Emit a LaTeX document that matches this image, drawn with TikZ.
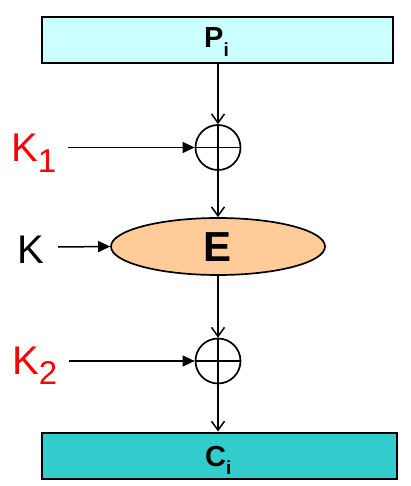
\documentclass[tikz,border=0pt]{standalone}
\usepackage{fontspec}
\setmainfont{Liberation Sans}
\usetikzlibrary{arrows.meta,shapes.geometric}
\definecolor{topfill}{HTML}{CCFFFF}
\definecolor{botfill}{HTML}{33CCCC}
\definecolor{efill}{HTML}{FFCC99}
\definecolor{kred}{HTML}{FF0000}
\begin{document}
\begin{tikzpicture}[x=1pt,y=-1pt,
  blockbox/.style={draw,line width=2pt,minimum width=351pt,minimum height=46pt,inner sep=0pt},
  xorc/.style={draw,circle,line width=1.7pt,minimum size=45pt,inner sep=0pt},
  vflow/.style={line width=1.5pt,-{Straight Barb[length=9pt,width=13pt,line width=1.5pt]}},
  hflow/.style={line width=1.5pt,-{Triangle[length=12pt,width=11pt]}},
  keylabel/.style={inner sep=0pt,anchor=base west,font=\fontsize{40}{40}\selectfont}]
\useasboundingbox (0,0) rectangle (410,486);
\node[blockbox,fill=topfill] (P) at (217.5,40) {};
\node[inner sep=0pt,anchor=base west,font=\bfseries\fontsize{29}{29}\selectfont] (Pt) at (204,48) {P\raisebox{-9pt}{\fontsize{19}{19}\selectfont i}};
\node[xorc] (x1) at (218,147.5) {};
\draw[line width=1.7pt] (x1.north) -- (x1.south) (x1.west) -- (x1.east);
\node[draw,ellipse,line width=1.7pt,fill=efill,minimum width=214pt,minimum height=57pt,inner sep=0pt] (E) at (218,246.5) {};
\node[inner sep=0pt,font=\bfseries\fontsize{42}{42}\selectfont] (Et) at (218,247) {E};
\node[xorc] (x2) at (218,361) {};
\draw[line width=1.7pt] (x2.north) -- (x2.south) (x2.west) -- (x2.east);
\node[blockbox,fill=botfill,minimum width=355pt] (C) at (219.5,455.5) {};
\node[inner sep=0pt,anchor=base west,font=\bfseries\fontsize{29}{29}\selectfont] (Ct) at (205,466) {C\raisebox{-8pt}{\fontsize{19}{19}\selectfont i}};
\node[keylabel,text=kred] (K1) at (11,162) {K\raisebox{-10pt}{\fontsize{33}{33}\selectfont 1}};
\node[keylabel] (K) at (17,263) {K};
\node[keylabel,text=kred] (K2) at (12,374) {K\raisebox{-10pt}{\fontsize{33}{33}\selectfont 2}};
\coordinate (k1s) at (68,147.5);
\coordinate (ks) at (58,247);
\coordinate (k2s) at (69,361);
\draw[vflow] (P.south -| x1.north) -- (x1.north);
\draw[vflow] (x1.south) -- (E.north);
\draw[vflow] (E.south) -- (x2.north);
\draw[vflow] (x2.south) -- (C.north -| x2.south);
\draw[hflow] (k1s) -- (x1.west);
\draw[hflow] (ks) -- (E.west);
\draw[hflow] (k2s) -- (x2.west);
\end{tikzpicture}
\end{document}
